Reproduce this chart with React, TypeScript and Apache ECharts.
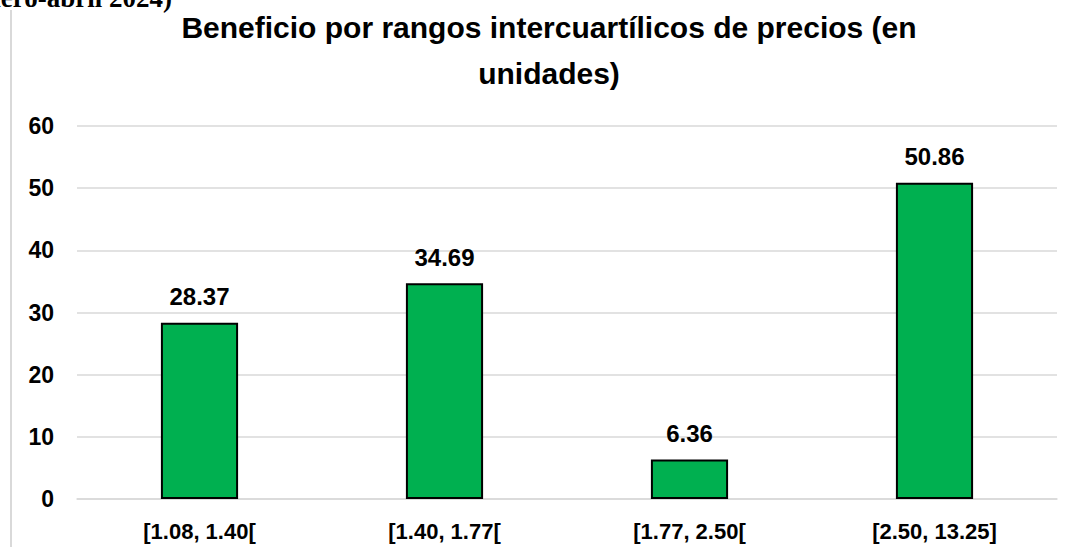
import React, { useEffect, useRef } from "react";
import * as echarts from "echarts";

const categories = ["[1.08, 1.40[", "[1.40, 1.77[", "[1.77, 2.50[", "[2.50, 13.25]"];
const values = [28.37, 34.69, 6.36, 50.86];
const yTicks = { min: 0, max: 60, interval: 10 };
const titleText = "Beneficio por rangos intercuartílicos de precios (en\nunidades)";
const cutText = "(enero-abril 2024)";

export default function App() {
  const ref = useRef<HTMLDivElement>(null);
  useEffect(() => {
    if (!ref.current) return;
    const chart = echarts.init(ref.current, null, { renderer: "svg" });
    chart.setOption({
      animation: false,
      backgroundColor: "#ffffff",
      title: {
        text: titleText,
        left: 549,
        textAlign: "center",
        top: 4,
        padding: 0,
        textStyle: {
          fontFamily: "Liberation Sans, Arial, sans-serif",
          fontWeight: "bold",
          fontSize: 30,
          lineHeight: 46,
          color: "#000000",
        },
      },
      graphic: [
        {
          type: "line",
          shape: { x1: 11, y1: 10, x2: 11, y2: 547 },
          style: { stroke: "#d9d9d9", lineWidth: 2 },
        },
        {
          type: "text",
          x: 172,
          y: 11,
          style: {
            text: cutText,
            align: "right",
            verticalAlign: "bottom",
            font: "bold 27px 'Liberation Serif', 'Times New Roman', serif",
            fill: "#000000",
          },
        },
      ],
      grid: { left: 77, right: 19, top: 126, bottom: 48, containLabel: false },
      xAxis: {
        type: "category",
        data: categories,
        axisLine: { show: true, lineStyle: { color: "#d9d9d9", width: 1.5 } },
        axisTick: { show: false },
        axisLabel: {
          margin: 21,
          fontFamily: "Liberation Sans, Arial, sans-serif",
          fontWeight: "bold",
          fontSize: 22,
          color: "#000000",
        },
      },
      yAxis: {
        type: "value",
        min: yTicks.min,
        max: yTicks.max,
        interval: yTicks.interval,
        axisLine: { show: false },
        axisTick: { show: false },
        splitLine: { lineStyle: { color: "#d9d9d9", width: 1.5 } },
        axisLabel: {
          margin: 23,
          fontFamily: "Liberation Sans, Arial, sans-serif",
          fontWeight: "bold",
          fontSize: 23,
          color: "#000000",
        },
      },
      series: [
        {
          type: "bar",
          data: values,
          barWidth: "31.5%",
          itemStyle: { color: "#00b050", borderColor: "#000000", borderWidth: 2 },
          label: {
            show: true,
            position: "top",
            distance: 14,
            formatter: (p: any) => p.value.toFixed(2),
            fontFamily: "Liberation Sans, Arial, sans-serif",
            fontWeight: "bold",
            fontSize: 24,
            color: "#000000",
          },
        },
      ],
    });
    return () => chart.dispose();
  }, []);
  return (
    <div
      ref={ref}
      style={{ position: "fixed", left: 0, top: 0, width: 1076, height: 547 }}
    />
  );
}
